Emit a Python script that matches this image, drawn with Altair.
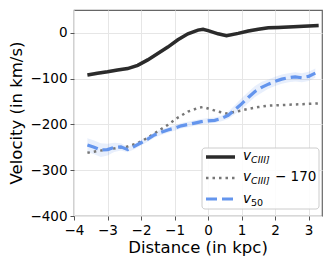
import altair as alt
import pandas as pd

# v_CIII] (black line)
civ_x = [-3.6, -3.3, -3.0, -2.7, -2.4, -2.1, -1.8, -1.5, -1.2, -0.9, -0.6, -0.3, -0.15, 0.0, 0.3, 0.55, 0.9, 1.2, 1.5, 1.8, 2.1, 2.4, 2.7, 3.0, 3.3]
civ_v = [-92, -88, -85, -81, -78, -71, -59, -45, -31, -15, -2, 6, 8, 5, -2, -6, -1, 4, 8, 11, 12, 13, 14, 15, 16]
civ_err = [4] * len(civ_x)

# v_50 (blue dashed) with uncertainty band
v50_x = [-3.6, -3.4, -3.2, -3.0, -2.8, -2.6, -2.4, -2.2, -2.0, -1.8, -1.6, -1.4, -1.2, -1.0, -0.8, -0.6, -0.4, -0.2, 0.0, 0.2, 0.4, 0.6, 0.8, 1.0, 1.2, 1.4, 1.6, 1.8, 2.0, 2.2, 2.4, 2.6, 2.8, 3.0, 3.2]
v50_v = [-245, -250, -256, -255, -250, -249, -255, -248, -240, -232, -223, -217, -212, -208, -203, -200, -197, -194, -192, -191, -187, -180, -168, -155, -141, -128, -119, -112, -106, -101, -98, -96, -98, -95, -88]
v50_err = [15, 15, 15, 13, 10, 8, 6, 6, 6, 6, 6, 6, 6, 6, 6, 6, 6, 6, 6, 6, 6, 8, 10, 12, 12, 12, 12, 10, 10, 10, 10, 10, 10, 10, 10]

offset = 170

x_ticks = [-4, -3, -2, -1, 0, 1, 2, 3]
y_ticks = [-400, -300, -200, -100, 0]

x_title = "Distance (in kpc)"
y_title = "Velocity (in km/s)"

civ = pd.DataFrame({"x": civ_x, "v": civ_v, "err": civ_err})
civ["lo"] = civ["v"] - civ["err"]
civ["hi"] = civ["v"] + civ["err"]
civ["vs"] = civ["v"] - offset

v50 = pd.DataFrame({"x": v50_x, "v": v50_v, "err": v50_err})
v50["lo"] = v50["v"] - v50["err"]
v50["hi"] = v50["v"] + v50["err"]

xs = alt.Scale(domain=[-4, 3.4], nice=False, zero=False)
ys = alt.Scale(domain=[-400, 50], nice=False, zero=False)

xax = alt.Axis(values=x_ticks, title=None, format="d", labelFlush=False)
yax = alt.Axis(values=y_ticks, title=None, format="d", labelFlush=False)

X = alt.X("x:Q", scale=xs, axis=xax)

civ_band = alt.Chart(civ).mark_area(color="#bbbbbb", opacity=0.3).encode(
    x=X, y=alt.Y("lo:Q", scale=ys, axis=yax), y2="hi:Q")
civ_line = alt.Chart(civ).mark_line(color="#2b2b2b", strokeWidth=3.5).encode(
    x=X, y=alt.Y("v:Q", scale=ys, axis=yax))
dot_line = alt.Chart(civ).mark_line(color="#777777", strokeWidth=2.5, strokeDash=[2.5, 4]).encode(
    x=X, y=alt.Y("vs:Q", scale=ys, axis=yax))
v50_band = alt.Chart(v50).mark_area(color="#6495ED", opacity=0.15).encode(
    x=X, y=alt.Y("lo:Q", scale=ys, axis=yax), y2="hi:Q")
v50_line = alt.Chart(v50).mark_line(color="#6495ED", strokeWidth=3.2, strokeDash=[11, 5]).encode(
    x=X, y=alt.Y("v:Q", scale=ys, axis=yax))

one = pd.DataFrame({"a": [0]})

# custom legend (mathtext-like labels)
leg_box = alt.Chart(one).mark_rect(fill="white", fillOpacity=0.85, stroke="#cccccc",
                                   strokeWidth=1, cornerRadius=3).encode(
    x=alt.value(128), x2=alt.value(245), y=alt.value(138), y2=alt.value(199))
leg_l1 = alt.Chart(one).mark_rule(color="#2b2b2b", strokeWidth=3.5).encode(
    x=alt.value(132), x2=alt.value(161), y=alt.value(147))
leg_l2 = alt.Chart(one).mark_rule(color="#777777", strokeWidth=2.5, strokeDash=[2.5, 4]).encode(
    x=alt.value(132), x2=alt.value(161), y=alt.value(168))
leg_l3 = alt.Chart(one).mark_rule(color="#6495ED", strokeWidth=3.2, strokeDash=[11, 5]).encode(
    x=alt.value(132), x2=alt.value(161), y=alt.value(189))

def txt(s, x, y, size, italic=True, align="left", angle=0):
    return alt.Chart(pd.DataFrame({"t": [s]})).mark_text(
        align=align, baseline="alphabetic", fontSize=size, font="DejaVu Sans",
        fontStyle="italic" if italic else "normal", color="black", angle=angle).encode(
        x=alt.value(x), y=alt.value(y), text="t:N")

labels = [
    txt("v", 169, 150, 13.5), txt("CIII]", 177, 153, 9.5),
    txt("v", 169, 171, 13.5), txt("CIII]", 177, 174, 9.5), txt("− 170", 201, 171, 13.5, False),
    txt("v", 169, 193, 13.5), txt("50", 177, 196, 9.5, False),
]

titles = [
    txt(x_title, 124, 243, 16.5, False, "center"),
    txt(y_title, -52, 103, 16.5, False, "center", 270),
]

chart = alt.layer(civ_band, v50_band, civ_line, dot_line, v50_line,
                  leg_box, leg_l1, leg_l2, leg_l3, *labels, *titles).properties(
    width=248, height=206,
    padding={"left": 66, "top": 2, "right": 2, "bottom": 40},
    autosize=alt.AutoSizeParams(type="none"),
).configure_view(stroke="#666666", strokeWidth=1.2).configure_axis(
    domain=False, grid=True, gridColor="#e6e6e6", gridWidth=1,
    tickColor="#555555", tickSize=4, labelColor="black", labelFontSize=13.5,
    labelFont="DejaVu Sans", labelPadding=3,
)

chart.save("out.html", embed_options={"renderer": "svg", "actions": False})
